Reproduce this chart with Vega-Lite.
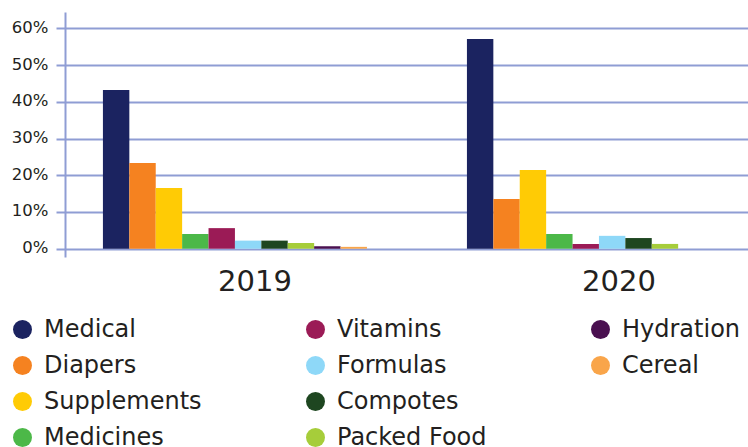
{
  "$schema": "https://vega.github.io/schema/vega-lite/v6.json",
  "width": 683,
  "height": 245,
  "autosize": {"type": "none"},
  "padding": {"left": 65, "top": 12, "right": 0, "bottom": 190},
  "background": "#ffffff",
  "config": {
    "view": {"stroke": null},
    "font": "DejaVu Sans"
  },
  "data": {
    "values": [
      {"year": "2019", "category": "Medical", "share": 0.432},
      {"year": "2019", "category": "Diapers", "share": 0.233},
      {"year": "2019", "category": "Supplements", "share": 0.165},
      {"year": "2019", "category": "Medicines", "share": 0.040},
      {"year": "2019", "category": "Vitamins", "share": 0.056},
      {"year": "2019", "category": "Formulas", "share": 0.022},
      {"year": "2019", "category": "Compotes", "share": 0.022},
      {"year": "2019", "category": "Packed Food", "share": 0.0155},
      {"year": "2019", "category": "Hydration", "share": 0.007},
      {"year": "2019", "category": "Cereal", "share": 0.005},
      {"year": "2020", "category": "Medical", "share": 0.571},
      {"year": "2020", "category": "Diapers", "share": 0.135},
      {"year": "2020", "category": "Supplements", "share": 0.214},
      {"year": "2020", "category": "Medicines", "share": 0.040},
      {"year": "2020", "category": "Vitamins", "share": 0.013},
      {"year": "2020", "category": "Formulas", "share": 0.035},
      {"year": "2020", "category": "Compotes", "share": 0.029},
      {"year": "2020", "category": "Packed Food", "share": 0.013},
      {"year": "2020", "category": "Hydration", "share": 0},
      {"year": "2020", "category": "Cereal", "share": 0}
    ]
  },
  "mark": {"type": "bar"},
  "encoding": {
    "x": {
      "field": "year",
      "type": "nominal",
      "scale": {"paddingInner": 0.2747, "paddingOuter": 0.0755, "align": 0.69},
      "axis": {
        "title": null,
        "domain": false,
        "ticks": false,
        "grid": false,
        "labelAngle": 0,
        "labelFontSize": 29,
        "labelColor": "#231f20",
        "labelBaseline": "middle",
        "labelPadding": 24,
        "labelOffset": 20
      }
    },
    "xOffset": {
      "field": "category",
      "type": "nominal",
      "scale": {
        "domain": ["Medical", "Diapers", "Supplements", "Medicines", "Vitamins", "Formulas", "Compotes", "Packed Food", "Hydration", "Cereal"],
        "paddingInner": 0,
        "paddingOuter": 0
      }
    },
    "y": {
      "field": "share",
      "type": "quantitative",
      "scale": {"domain": [-0.0226, 0.6444], "nice": false, "zero": false},
      "axis": {
        "title": null,
        "values": [0, 0.1, 0.2, 0.3, 0.4, 0.5, 0.6],
        "format": ".0%",
        "domainColor": "#8f9dd4",
        "domainWidth": 2,
        "tickColor": "#8f9dd4",
        "tickWidth": 2,
        "tickSize": 9,
        "gridColor": "#8f9dd4",
        "gridWidth": 2,
        "labelFontSize": 16.5,
        "labelColor": "#231f20",
        "labelPadding": 8,
        "labelOffset": -1
      }
    },
    "color": {
      "field": "category",
      "type": "nominal",
      "scale": {
        "domain": ["Medical", "Diapers", "Supplements", "Medicines", "Vitamins", "Formulas", "Compotes", "Packed Food", "Hydration", "Cereal", " "],
        "range": ["#1b2360", "#f58220", "#ffcb05", "#4cb848", "#9b1b56", "#8ed8f8", "#1e4620", "#a6cd3a", "#4a1050", "#f9a54a", "#ffffff"]
      },
      "legend": {
        "title": null,
        "orient": "none",
        "legendX": -54.5,
        "legendY": 305.5,
        "columns": 3,
        "padding": 0,
        "symbolType": "circle",
        "symbolSize": 361,
        "symbolStrokeWidth": 0,
        "symbolOpacity": 1,
        "labelFontSize": 24,
        "labelColor": "#231f20",
        "labelOffset": 9.5,
        "labelLimit": 300,
        "rowPadding": 12,
        "columnPadding": 101
      }
    }
  }
}
